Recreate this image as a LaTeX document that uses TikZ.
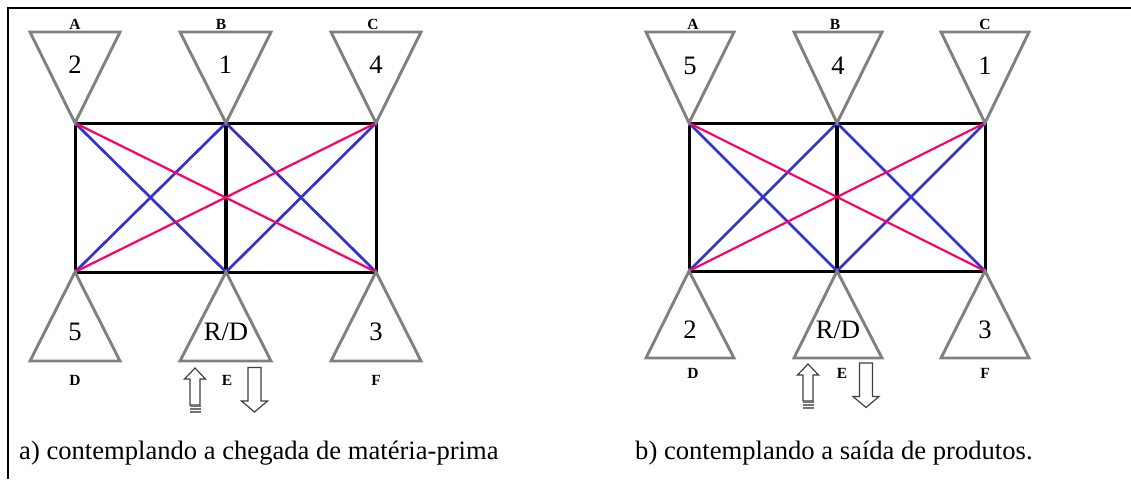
\documentclass[tikz,border=0pt]{standalone}
\usepackage{fontspec}
\setmainfont{Liberation Serif}
\definecolor{tri}{RGB}{128,128,128}
\definecolor{pinkl}{RGB}{255,0,102}
\definecolor{bluel}{RGB}{51,51,204}
\tikzset{
 trishape/.style={draw=tri,line width=2.9pt,line join=miter},
 rectl/.style={draw=black,line width=3pt},
 midl/.style={draw=black,line width=4pt},
 pinkline/.style={draw=pinkl,line width=2.2pt},
 blueline/.style={draw=bluel,line width=2.7pt},
 num/.style={font=\fontsize{26.6}{27}\selectfont,inner sep=0pt,anchor=base},
 lett/.style={font=\fontsize{15.5}{16}\selectfont\bfseries,inner sep=0pt,anchor=base},
 captext/.style={font=\fontsize{26.6}{30}\selectfont,inner sep=0pt,anchor=base west},
 arrowshape/.style={draw=black!75,line width=1.2pt,fill=white,line join=miter},
 frameline/.style={draw=black,line width=2.4pt}
}
\newcommand{\upar}[2]{% x,y top tip
 \draw[arrowshape] (#1,#2) -- ++(10.5,11) -- ++(-5.5,0) -- ++(0,26) -- ++(-10,0) -- ++(0,-26) -- ++(-5.5,0) -- cycle;
 \fill[black!55] (#1-5.5,#2+37) rectangle ++(11,7.5);
 \fill[white] (#1-5.5,#2+39.3) rectangle ++(11,0.7);
 \fill[white] (#1-5.5,#2+41.8) rectangle ++(11,0.7);
}
\newcommand{\dnar}[2]{% x,y bottom tip
 \draw[arrowshape] (#1,#2) -- ++(13,-11) -- ++(-6.5,0) -- ++(0,-33.5) -- ++(-13,0) -- ++(0,33.5) -- ++(-6.5,0) -- cycle;
}
\begin{document}
\begin{tikzpicture}[x=1pt,y=-1pt]
\useasboundingbox (0,0) rectangle (1131,479);
\coordinate (fb) at (8,479);
\coordinate (ftl) at (8,8);
\coordinate (ftr) at (1131,8);
\draw[frameline] (fb) -- (ftl) -- (ftr);
% left diagram
\coordinate (a1) at (75,123); \coordinate (b1) at (226,123); \coordinate (c1) at (376,123);
\coordinate (d1) at (75,272); \coordinate (e1) at (226,272); \coordinate (f1) at (376,272);
\draw[rectl] (a1) -- (c1) -- (f1) -- (d1) -- cycle;
\draw[midl] (b1) -- (e1);
\draw[blueline] (a1) -- (e1);
\draw[blueline] (d1) -- (b1);
\draw[blueline] (b1) -- (f1);
\draw[blueline] (e1) -- (c1);
\draw[pinkline] (a1) -- (f1);
\draw[pinkline] (d1) -- (c1);
\draw[trishape] (30,32) -- (120,32) -- (a1) -- cycle;
\draw[trishape] (180,32) -- (271,32) -- (b1) -- cycle;
\draw[trishape] (331,32) -- (421,32) -- (c1) -- cycle;
\draw[trishape] (30,361) -- (120,361) -- (d1) -- cycle;
\draw[trishape] (180,361) -- (271,361) -- (e1) -- cycle;
\draw[trishape] (331,361) -- (421,361) -- (f1) -- cycle;
\node[num] (n1a) at (75,73.5) {2};
\node[num] (n1b) at (225.5,73.5) {1};
\node[num] (n1c) at (376,73.5) {4};
\node[num] (n1d) at (75,340) {5};
\node[num] (n1e) at (226,340) {R/D};
\node[num] (n1f) at (376,340) {3};
\node[lett] (l1a) at (75,29) {A};
\node[lett] (l1b) at (221,29) {B};
\node[lett] (l1c) at (373,29) {C};
\node[lett] (l1d) at (75,385) {D};
\node[lett] (l1e) at (227,385) {E};
\node[lett] (l1f) at (376,385) {F};
\upar{195}{368}
\dnar{254.5}{412}
\node[captext] (capa) at (19,459) {a) contemplando a chegada de matéria-prima};
% right diagram
\coordinate (a2) at (689,123); \coordinate (b2) at (837,123); \coordinate (c2) at (985,123);
\coordinate (d2) at (689,271); \coordinate (e2) at (837,271); \coordinate (f2) at (985,271);
\draw[rectl] (a2) -- (c2) -- (f2) -- (d2) -- cycle;
\draw[midl] (b2) -- (e2);
\draw[blueline] (a2) -- (e2);
\draw[blueline] (d2) -- (b2);
\draw[blueline] (b2) -- (f2);
\draw[blueline] (e2) -- (c2);
\draw[pinkline] (a2) -- (f2);
\draw[pinkline] (d2) -- (c2);
\draw[trishape] (646,32) -- (734,32) -- (a2) -- cycle;
\draw[trishape] (794,32) -- (882,32) -- (b2) -- cycle;
\draw[trishape] (941,32) -- (1029,32) -- (c2) -- cycle;
\draw[trishape] (646,358) -- (734,358) -- (d2) -- cycle;
\draw[trishape] (794,358) -- (882,358) -- (e2) -- cycle;
\draw[trishape] (941,358) -- (1029,358) -- (f2) -- cycle;
\node[num] (n2a) at (690,74.5) {5};
\node[num] (n2b) at (838,74.5) {4};
\node[num] (n2c) at (985,74.5) {1};
\node[num] (n2d) at (690,338.5) {2};
\node[num] (n2e) at (838,338.5) {R/D};
\node[num] (n2f) at (985,338.5) {3};
\node[lett] (l2a) at (693,29) {A};
\node[lett] (l2b) at (835,29) {B};
\node[lett] (l2c) at (985,29) {C};
\node[lett] (l2d) at (693,378) {D};
\node[lett] (l2e) at (842,378) {E};
\node[lett] (l2f) at (985,378) {F};
\upar{808}{364}
\dnar{866}{407.5}
\node[captext] (capb) at (635,459) {b) contemplando a saída de produtos.};
\end{tikzpicture}
\end{document}
